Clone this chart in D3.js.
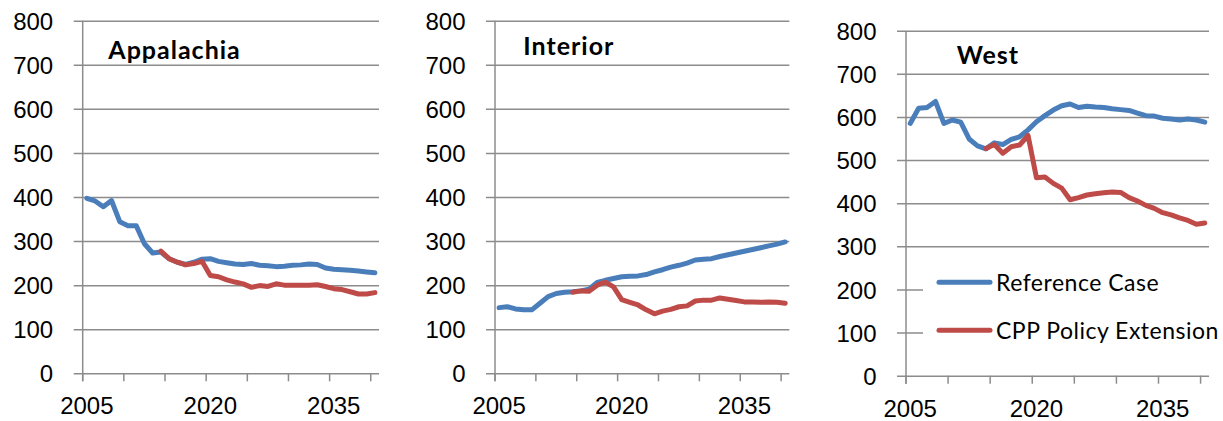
<!DOCTYPE html>
<meta charset="utf-8">
<title>Coal production by region</title>
<style>
body { margin: 0; background: #fff; }
svg { display: block; font-family: Lato, "Open Sans", sans-serif; }
.grid line { stroke: #8c8c8c; stroke-width: 1.5px; }
.axisline { stroke: #8c8c8c; stroke-width: 1.5px; }
.lbl text { font-size: 24px; fill: #000; }
.title { font-size: 25px; font-weight: bold; letter-spacing: 1px; }
.legend text { font-size: 23px; letter-spacing: 0.5px; }
</style>
<body>
<svg width="1223" height="421"></svg>
<script src="https://cdn.jsdelivr.net/npm/d3@7"></script>
<script>

var years = d3.range(2005, 2041);
var policyYears = d3.range(2014, 2041);
var yTicks = [0, 100, 200, 300, 400, 500, 600, 700, 800];
var xLabels = [2005, 2020, 2035];
var xTickYears = [2005, 2010, 2015, 2020, 2025, 2030, 2035, 2040];
var seriesNames = ["Reference Case", "CPP Policy Extension"];

// Reference case (2005-2040)
var appRef = [397,391,378,392,344,335,335,294,273,275,260,252,247,252,259,260,254,251,
              248,247,249,245,244,242,243,245,246,248,247,239,236,235,234,232,230,228];
var intRef = [149,151,146,144,144,159,174,181,184,185,187,191,206,211,215,219,220,221,
              224,230,235,241,245,250,257,259,260,265,269,273,277,281,285,289,293,298];
var westRef = [585,620,622,636,585,593,588,549,533,526,540,536,548,554,570,589,603,616,
               626,630,622,625,623,622,619,617,615,609,603,602,597,595,593,595,593,588];

// CPP policy extension (2014-2040)
var appCpp = [277,260,252,246,249,254,222,219,212,207,203,195,199,197,203,200,200,200,
              200,201,197,192,190,185,180,180,183];
var intCpp = [184,187,186,200,207,196,167,161,155,144,135,141,145,151,153,164,166,166,
              171,168,165,162,162,161,162,161,159];
var westCpp = [527,536,516,531,535,557,459,461,446,435,408,413,419,422,424,426,425,413,
               405,395,388,378,373,366,360,351,354];

var colors = ["#4A7EBB", "#BE4B48"];

var svg = d3.select("svg");

var panels = [
  {name: "Appalachia", ref: appRef, cpp: appCpp, left: 82.7, right: 379, top: 20.7, bottom: 373.3, tx: 108.3, ty: 59.3},
  {name: "Interior", ref: intRef, cpp: intCpp, left: 495, right: 789.3, top: 20.7, bottom: 373.3, tx: 523.3, ty: 55},
  {name: "West", ref: westRef, cpp: westCpp, left: 906, right: 1209, top: 30.7, bottom: 375.7, tx: 956.7, ty: 64, legend: true}
];

panels.forEach(function(p) {
  var x = d3.scaleBand().domain(years).range([p.left, p.right]).padding(0);
  var y = d3.scaleLinear().domain([0, 800]).range([p.bottom, p.top]);
  var bw = x.bandwidth();
  var g = svg.append("g");

  // gridlines (with the small outside tick)
  g.append("g")
    .attr("class", "grid")
    .attr("transform", "translate(" + (p.left - 9) + ",0)")
    .call(d3.axisRight(y).tickValues(yTicks).tickSize(p.right - p.left + 9).tickFormat(""))
    .call(function(s) { s.select(".domain").remove(); });

  // y labels
  g.append("g")
    .attr("class", "lbl")
    .attr("transform", "translate(" + p.left + ",0)")
    .call(d3.axisLeft(y).tickValues(yTicks).tickSize(0).tickPadding(29.5))
    .call(function(s) { s.select(".domain").remove(); s.selectAll("text").attr("dy", "0.36em"); });

  // x tick marks at category boundaries
  g.append("g").selectAll("line")
    .data(xTickYears)
    .enter().append("line")
      .attr("class", "axisline")
      .attr("x1", function(d) { return x(d); })
      .attr("x2", function(d) { return x(d); })
      .attr("y1", p.bottom)
      .attr("y2", p.bottom + 8);

  // vertical axis line
  g.append("line")
    .attr("class", "axisline")
    .attr("x1", p.left).attr("x2", p.left)
    .attr("y1", p.top).attr("y2", p.bottom + 8);

  // x labels
  g.append("g")
    .attr("class", "lbl")
    .attr("transform", "translate(0," + p.bottom + ")")
    .call(d3.axisBottom(x).tickValues(xLabels).tickSize(0).tickPadding(24))
    .call(function(s) { s.select(".domain").remove(); });

  var line = d3.line()
    .x(function(d) { return x(d[0]) + bw / 2; })
    .y(function(d) { return y(d[1]); });

  g.append("path")
    .datum(d3.zip(years, p.ref))
    .attr("d", line)
    .attr("fill", "none")
    .attr("stroke", colors[0])
    .attr("stroke-width", 5)
    .attr("stroke-linejoin", "round")
    .attr("stroke-linecap", "round");

  g.append("path")
    .datum(d3.zip(policyYears, p.cpp))
    .attr("d", line)
    .attr("fill", "none")
    .attr("stroke", colors[1])
    .attr("stroke-width", 5)
    .attr("stroke-linejoin", "round")
    .attr("stroke-linecap", "round");

  g.append("text")
    .attr("class", "title")
    .attr("x", p.tx)
    .attr("y", p.ty)
    .text(p.name);

  if (p.legend) {
    var lg = g.append("g").attr("class", "legend");
    lg.append("rect")
      .attr("x", 923).attr("y", 258)
      .attr("width", 300).attr("height", 94)
      .attr("fill", "#fff");
    var item = lg.selectAll(".item")
      .data(seriesNames)
      .enter().append("g")
        .attr("class", "item")
        .attr("transform", function(d, i) { return "translate(0," + (282.3 + i * 48) + ")"; });
    item.append("line")
      .attr("x1", 939).attr("x2", 990)
      .attr("stroke", function(d, i) { return colors[i]; })
      .attr("stroke-width", 5)
      .attr("stroke-linecap", "round");
    item.append("text")
      .attr("x", 996)
      .attr("dy", "0.36em")
      .text(function(d) { return d; });
  }
});

</script>
</body>
